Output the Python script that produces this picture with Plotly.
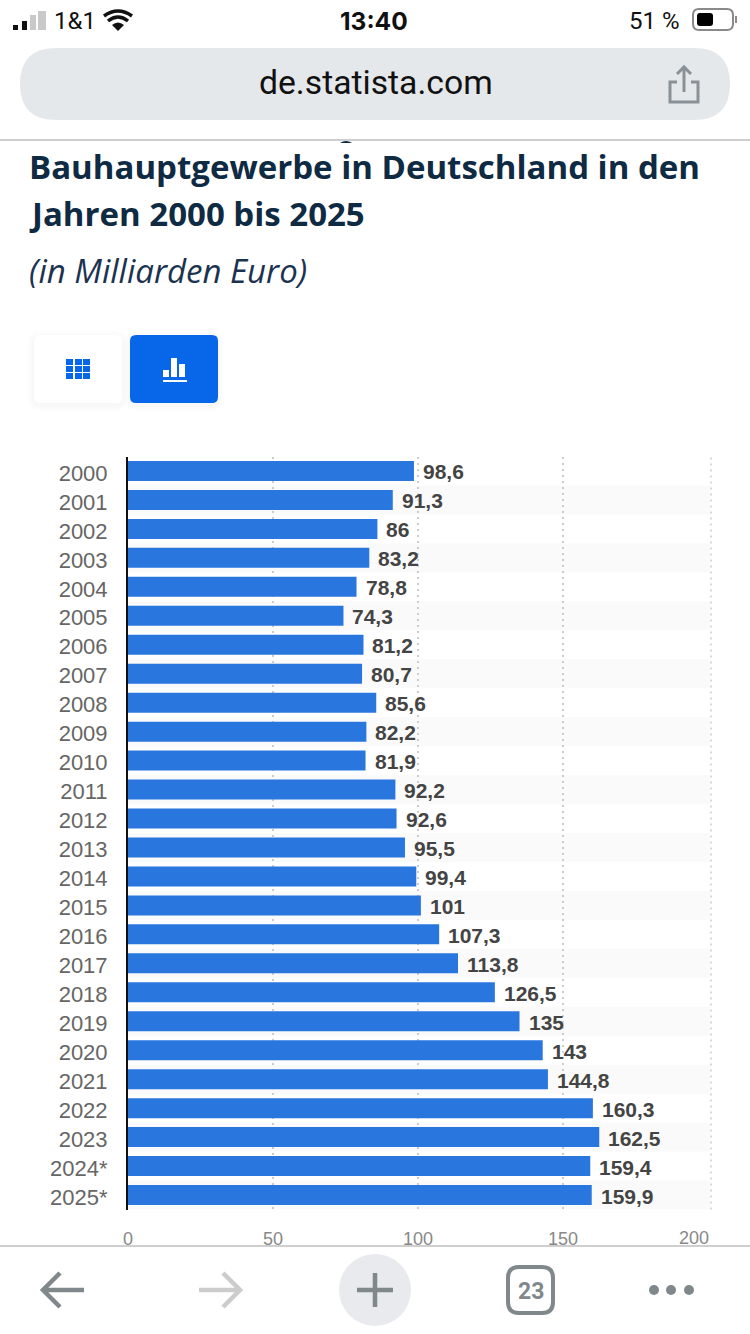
import plotly.graph_objects as go

W = 750
H = 1334

years = ["2000", "2001", "2002", "2003", "2004", "2005", "2006", "2007", "2008",
         "2009", "2010", "2011", "2012", "2013", "2014", "2015", "2016", "2017",
         "2018", "2019", "2020", "2021", "2022", "2023", "2024*", "2025*"]
values = [98.6, 91.3, 86, 83.2, 78.8, 74.3, 81.2, 80.7, 85.6, 82.2, 81.9, 92.2, 92.6,
          95.5, 99.4, 101, 107.3, 113.8, 126.5, 135, 143, 144.8, 160.3, 162.5, 159.4, 159.9]
tick_values = [0, 50, 100, 150]
tick_labels = ["0", "50", "100", "150"]

rows = list(range(len(years)))


def px(x):
    return x / W


def py(y):
    return 1 - y / H


def path(d):
    # svg path written in screen pixels, converted to paper coords
    out = []
    is_x = True
    for tok in d.split():
        if tok.isalpha():
            out.append(tok)
        elif is_x:
            out.append(f"{px(float(tok)):.5f}")
            is_x = False
        else:
            out.append(f"{py(float(tok)):.5f}")
            is_x = True
    return " ".join(out)


def rounded(x0, y0, x1, y1, r):
    return (f"M {x0 + r} {y0} L {x1 - r} {y0} Q {x1} {y0} {x1} {y0 + r} L {x1} {y1 - r} "
            f"Q {x1} {y1} {x1 - r} {y1} L {x0 + r} {y1} Q {x0} {y1} {x0} {y1 - r} "
            f"L {x0} {y0 + r} Q {x0} {y0} {x0 + r} {y0} Z")


shapes = []


def add_path(d, fill=None, line=None, width=0, layer="above"):
    shapes.append(dict(type="path", path=path(d), xref="paper", yref="paper",
                       fillcolor=fill if fill else "rgba(0,0,0,0)",
                       line=dict(color=line if line else "rgba(0,0,0,0)", width=width),
                       layer=layer))


def add_box(x0, y0, x1, y1, fill):
    shapes.append(dict(type="rect", xref="paper", yref="paper", x0=px(x0), x1=px(x1),
                       y0=py(y0), y1=py(y1), fillcolor=fill, line=dict(width=0)))


def add_dot(x0, y0, x1, y1, fill):
    shapes.append(dict(type="circle", xref="paper", yref="paper", x0=px(x0), x1=px(x1),
                       y0=py(y0), y1=py(y1), fillcolor=fill, line=dict(width=0)))


annotations = []


def add_text(x, y, text, size, color, family="Roboto", anchor="center", bold=False, italic=False):
    annotations.append(dict(xref="paper", yref="paper", x=px(x), y=py(y), text=text,
                            showarrow=False, xanchor=anchor, yanchor="middle", borderpad=0,
                            font=dict(size=size, color=color, family=family,
                                      weight="bold" if bold else "normal",
                                      style="italic" if italic else "normal")))


# stripes behind the rows
for i in rows[1::2]:
    shapes.append(dict(type="rect", xref="x", yref="y", x0=0, x1=200.6, y0=i - 0.5, y1=i + 0.5,
                       fillcolor="#fafafa", line=dict(width=0), layer="below"))

# right hand dotted grid line
shapes.append(dict(type="line", xref="x domain", yref="y domain", x0=1, x1=1, y0=0, y1=1,
                   line=dict(color="#cccccc", width=1.5, dash="2px,4px"), layer="below"))

# status bar
add_box(13, 25, 18, 30, "#111111")
add_box(22, 21, 27, 30, "#111111")
add_box(30, 15, 36, 30, "#c9c9c9")
add_box(38, 11, 46, 30, "#c9c9c9")
add_text(53, 21, "1&1", 24, "#111111", anchor="left")
add_path("M 118 31 L 112 25 Q 118 20 124 25 Z", fill="#111111")
add_path("M 108 21 Q 118 13 128 21", line="#111111", width=3.5)
add_path("M 104 16 Q 118 6 132 16", line="#111111", width=3.5)
add_text(374, 21, "13:40", 24.5, "#111111", family="Inter", bold=True)
add_text(628, 21, "51 %", 24, "#111111", anchor="left")
add_path(rounded(693, 9, 733, 30, 6), line="#8a8a8a", width=2)
add_path(rounded(697, 13, 713, 26, 3), fill="#000000")
add_box(735, 16, 737, 23, "#8a8a8a")

# url pill
add_path(rounded(20, 48, 730, 120, 36), fill="#e5e8eb")
add_text(375.5, 83, "de.statista.com", 33.7, "#111111")
add_path("M 677 82 L 670 82 L 670 102 L 698 102 L 698 82 L 691 82", line="#8a9196", width=3)
add_path("M 684 92 L 684 68 M 677 74 L 684 67 L 691 74", line="#8a9196", width=3)
add_box(0, 139, 750, 141, "#cfcfcf")
add_path("M 340 143 Q 346 139 352 143 Z", fill="#0f2a43")

# heading
add_text(28, 167, "Bauhauptgewerbe in Deutschland in den", 33, "#0f2a43", family="Open Sans",
         anchor="left", bold=True)
add_text(28, 213, "Jahren 2000 bis 2025", 33, "#0f2a43", family="Open Sans", anchor="left", bold=True)
add_text(28, 270, "(in Milliarden Euro)", 33, "#1b3350", family="Open Sans", anchor="left", italic=True)

# table / chart switch
for grow, tint in [(6, "rgba(0,0,0,0.006)"), (4, "rgba(0,0,0,0.008)"), (2, "rgba(0,0,0,0.012)")]:
    add_path(rounded(34 - grow, 335 - grow + 2, 122 + grow, 403 + grow + 2, 6 + grow), fill=tint)
    add_path(rounded(130 - grow, 335 - grow + 2, 218 + grow, 403 + grow + 2, 6 + grow), fill=tint)
add_path(rounded(34, 335, 122, 403, 6), fill="#ffffff")
add_path(rounded(130, 335, 218, 403, 6), fill="#0866e8")
for cx in (66, 75, 83):
    for cy in (359, 366, 373):
        add_box(cx, cy, cx + 7, cy + 6, "#0866e8")
add_box(163, 370, 169, 377, "#ffffff")
add_box(171, 358, 177, 377, "#ffffff")
add_box(179, 364, 185, 377, "#ffffff")
add_box(163, 380, 187, 382, "#ffffff")

# bottom toolbar
add_box(0, 1245, 750, 1247, "#cfcfcf")
add_path("M 84 1290 L 43 1290 M 60 1273 L 43 1290 L 60 1307", line="#80888c", width=4.5)
add_path("M 199 1290 L 240 1290 M 223 1273 L 240 1290 L 223 1307", line="#cccccc", width=4.5)
add_dot(339, 1254, 411, 1326, "#e8eaed")
add_path("M 357 1290 L 393 1290 M 375 1273 L 375 1307", line="#80888c", width=4.5)
add_path(rounded(508, 1267, 553, 1313, 11), line="#80888c", width=4)
add_text(531, 1291, "23", 23, "#80888c", bold=True)
for cx in (654, 671, 689):
    add_dot(cx - 5, 1285, cx + 5, 1295, "#80888c")

# value labels
for row, val in zip(rows, values):
    annotations.append(dict(x=val, y=row, xref="x", yref="y", text=str(val).replace(".", ","),
                            showarrow=False, xanchor="left", yanchor="middle", xshift=7, yshift=-1,
                            font=dict(size=21, color="#444444", family="Liberation Sans",
                                      weight="bold", shadow="0px 0px 3px #ffffff")))
# the 200 label sits inside the plot edge
add_text(710, 1238, "200", 18, "#888888", family="Liberation Sans", anchor="right")

fig = go.Figure()

fig.add_trace(go.Bar(
    x=values,
    y=rows,
    orientation="h",
    width=0.69,
    marker=dict(color="#2976de", line=dict(width=0)),
    hoverinfo="skip",
    showlegend=False
))

fig.update_layout(
    width=W,
    height=H,
    margin=dict(l=0, r=0, t=0, b=0, autoexpand=False),
    paper_bgcolor="#ffffff",
    plot_bgcolor="#ffffff",
    shapes=shapes,
    annotations=annotations,
    xaxis=dict(
        domain=[px(128), px(711)],
        range=[0, 201.03],
        tickmode="array",
        tickvals=tick_values,
        ticktext=tick_labels,
        tickfont=dict(size=18, color="#888888", family="Liberation Sans"),
        ticks="",
        ticklabelstandoff=16,
        showgrid=True,
        gridcolor="#cccccc",
        gridwidth=1.5,
        griddash="2px,4px",
        zeroline=False,
        showline=False
    ),
    yaxis=dict(
        domain=[py(1209.5), py(456.5)],
        range=[25.5, -0.5],
        tickmode="array",
        tickvals=rows,
        ticktext=years,
        tickfont=dict(size=22, color="#666666", family="Liberation Sans"),
        ticks="",
        ticklabelstandoff=14,
        ticklabelshift=-2,
        showgrid=False,
        zeroline=False,
        showline=True,
        linecolor="#111111",
        linewidth=2
    )
)

fig.write_html("out.html", config={"displayModeBar": False},
               post_script="document.body.style.margin='0';document.body.style.overflow='hidden';")
